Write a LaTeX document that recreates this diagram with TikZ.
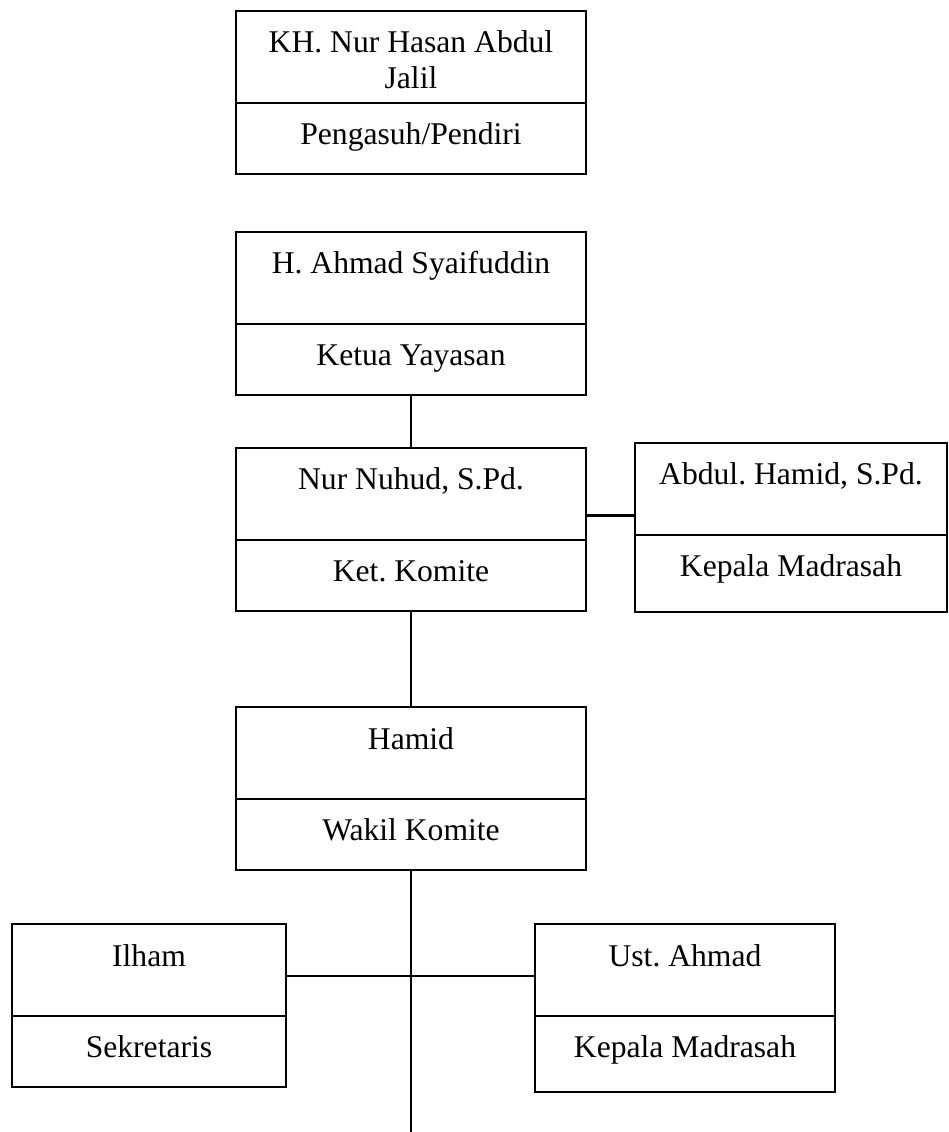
\documentclass[tikz,border=0pt]{standalone}
\usepackage{fontspec}
\setmainfont{Liberation Serif}
\frenchspacing
\usetikzlibrary{calc, positioning}

\begin{document}
\begin{tikzpicture}[x=0.02cm, y=-0.02cm, line width=1.4pt,
   box/.style={draw, outer sep=0pt, inner ysep=0pt, align=center,
      font=\fontsize{18}{20.5}\selectfont, text height=0.84cm},
   namebox/.style={box, anchor=north, minimum width=#1, text depth=1.0cm},
   rolebox/.style={box, minimum width=#1, text depth=0.58cm}]

   \useasboundingbox (0,0) rectangle (948,1132);

   \draw(411,11) node[namebox=7cm, text height=1.56cm, text depth=0.28cm] (hasan) {KH. Nur Hasan Abdul\\Jalil};
   \node[rolebox=7cm, below=0pt of hasan] (pendiri) {Pengasuh/Pendiri};

   \draw(411,232) node[namebox=7cm] (syaif) {H. Ahmad Syaifuddin};
   \node[rolebox=7cm, below=0pt of syaif] (yayasan) {Ketua Yayasan};

   \draw(411,448) node[namebox=7cm] (nuhud) {Nur Nuhud, S.Pd.};
   \node[rolebox=7cm, below=0pt of nuhud] (komite) {Ket. Komite};

   \draw(791,443) node[namebox=6.24cm] (abdul) {Abdul. Hamid, S.Pd.};
   \node[rolebox=6.24cm, below=0pt of abdul, text depth=0.7cm] (kamad) {Kepala Madrasah};

   \draw(411,707) node[namebox=7cm] (hamid) {Hamid};
   \node[rolebox=7cm, below=0pt of hamid] (wakil) {Wakil Komite};

   \draw(149,924) node[namebox=5.48cm] (ilham) {Ilham};
   \node[rolebox=5.48cm, below=0pt of ilham] (sekretaris) {Sekretaris};

   \draw(685,924) node[namebox=6cm] (ustahmad) {Ust. Ahmad};
   \node[rolebox=6cm, below=0pt of ustahmad, text depth=0.68cm] (kamad2) {Kepala Madrasah};

   \coordinate (komiteR) at ([yshift=-0.43cm]nuhud.east);
   \coordinate (sekR) at ([yshift=-0.12cm]ilham.east);
   \coordinate (bawah) at (411,1132);

   \draw[] (yayasan.south) -- (nuhud.north);
   \draw[] (komiteR) -- (komiteR -| abdul.west);
   \draw[] (komite.south) -- (hamid.north);
   \draw[] (wakil.south) -- (bawah);
   \draw[] (sekR) -- (sekR -| ustahmad.west);

\end{tikzpicture}
\end{document}
